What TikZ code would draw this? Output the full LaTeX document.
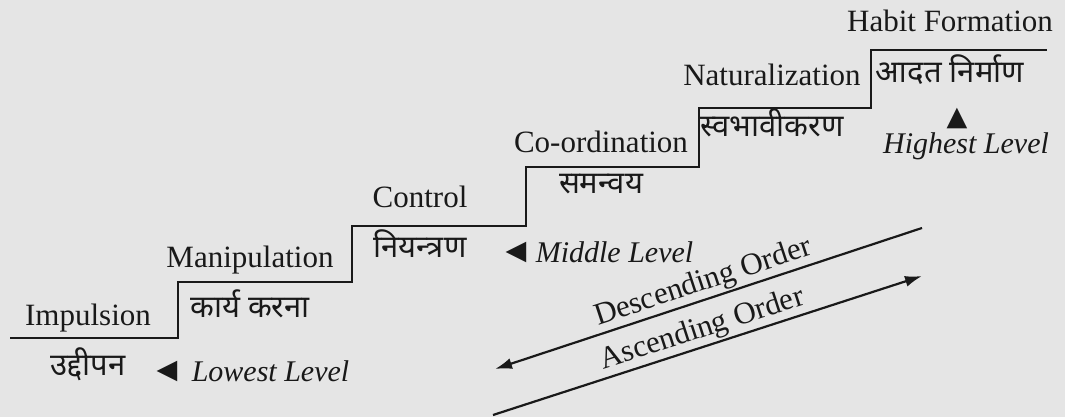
\documentclass[tikz,border=0pt]{standalone}
\usepackage{fontspec}
\setmainfont{Liberation Serif}
\newfontfamily\hindifont[Script=Devanagari]{Noto Sans}
\newfontfamily\symbfont{DejaVu Sans}
\usetikzlibrary{
	positioning,
	arrows.meta
}
\definecolor{paper}{RGB}{229,229,229}
\definecolor{ink}{RGB}{25,25,25}
\tikzset{
	node distance=15pt,
	stair/.style={
		line width=2.6pt,draw=ink,line join=miter
	},
	eng/.style={
		inner sep=0pt,text=ink,anchor=base,
		font=\fontsize{31}{36}\selectfont,
		text height=20pt,text depth=7pt
	},
	hin/.style={
		inner sep=0pt,text=ink,
		font=\hindifont\fontsize{31}{36}\selectfont
	},
	lvl/.style={
		inner sep=0pt,text=ink,
		font=\itshape\fontsize{30}{36}\selectfont
	},
	tri/.style={
		inner sep=0pt,text=ink,
		font=\symbfont\fontsize{27}{30}\selectfont
	},
	order/.style={
		line width=2.2pt,draw=ink,
		-{Latex[length=17pt,width=11pt]}
	}
}

\begin{document}
\begin{tikzpicture}[x=1pt,y=-1pt]
	\fill[paper] (0,0) rectangle (1065,417);
	\useasboundingbox (0,0) rectangle (1065,417);

	% the stairs
	\draw[stair] (10,338) -| (178,282) -| (352,226) -| (526,167)
		-| (699,108) -| (871,50) -- (1047,50);

	\draw
		node[eng] (imp) at (88,325)  {Impulsion}
		node[eng] (man) at (250,267) {Manipulation}
		node[eng] (ctl) at (420,207) {Control}
		node[eng] (coo) at (601,152) {Co-ordination}
		node[eng] (nat) at (772,86)  {Naturalization}
		node[eng] (hab) at (950,32)  {Habit Formation}

		node[hin,below=of imp] (impH) {उद्दीपन}
		node[hin,below=of man] (manH) {कार्य करना}
		node[hin,below=of ctl] (ctlH) {नियन्त्रण}
		node[hin,below=of coo] (cooH) {समन्वय}
		node[hin,below=of nat] (natH) {स्वभावीकरण}
		node[hin,below=of hab] (habH) {आदत निर्माण}
	;

	% levels
	\draw
		node[tri] (lowT) at (167,371) {◀}
		node[lvl,right=14pt of lowT] (low) {Lowest Level}
		node[tri] (midT) at (516,252) {◀}
		node[lvl,right=9pt of midT] (mid) {Middle Level}
		node[lvl] (high) at (966,146) {Highest Level}
		node[tri,above=3pt of high,xshift=-9pt] (highT) {▲}
	;

	% orders
	\coordinate (dTop) at (922,228);
	\coordinate (dBot) at (495,369);
	\coordinate (aBot) at (493,415);
	\coordinate (aTop) at (922,276);
	\draw[order] (dTop) -- node[eng,anchor=south,sloped,above=1pt] (desc) {Descending Order} (dBot);
	\draw[order] (aBot) -- node[eng,anchor=south,sloped,above=1pt] (asc) {Ascending Order} (aTop);
\end{tikzpicture}
\end{document}
